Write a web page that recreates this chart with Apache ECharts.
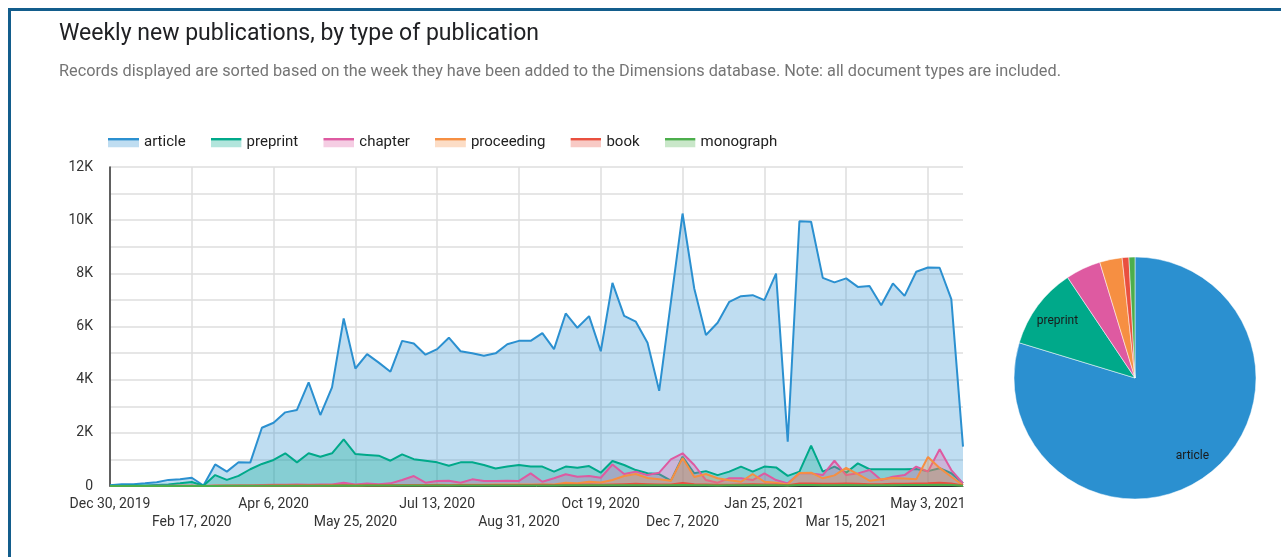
<!DOCTYPE html>
<html>
<head>
<meta charset="utf-8">
<title>Weekly new publications</title>
<script src="https://cdn.jsdelivr.net/npm/echarts@6/dist/echarts.min.js"></script>
<style>
html, body { margin: 0; padding: 0; background: #fff; overflow: hidden }
#frame { position: absolute; left: 8px; top: 8px; width: 1320px; height: 620px; border: 3px solid #135d8c; box-sizing: border-box }
#chart { position: absolute; left: 0; top: 0; width: 1281px; height: 557px }
</style>
</head>
<body>
<div id="frame"></div>
<div id="chart"></div>
<script>
// weeks the records were added (Mondays)
const weeks = [
  'Dec 30, 2019', 'Jan 6, 2020', 'Jan 13, 2020', 'Jan 20, 2020', 'Jan 27, 2020', 'Feb 3, 2020', 'Feb 10, 2020',
  'Feb 17, 2020', 'Feb 24, 2020', 'Mar 2, 2020', 'Mar 9, 2020', 'Mar 16, 2020', 'Mar 23, 2020', 'Mar 30, 2020',
  'Apr 6, 2020', 'Apr 13, 2020', 'Apr 20, 2020', 'Apr 27, 2020', 'May 4, 2020', 'May 11, 2020', 'May 18, 2020',
  'May 25, 2020', 'Jun 1, 2020', 'Jun 8, 2020', 'Jun 15, 2020', 'Jun 22, 2020', 'Jun 29, 2020', 'Jul 6, 2020',
  'Jul 13, 2020', 'Jul 20, 2020', 'Jul 27, 2020', 'Aug 3, 2020', 'Aug 10, 2020', 'Aug 17, 2020', 'Aug 24, 2020',
  'Aug 31, 2020', 'Sep 7, 2020', 'Sep 14, 2020', 'Sep 21, 2020', 'Sep 28, 2020', 'Oct 5, 2020', 'Oct 12, 2020',
  'Oct 19, 2020', 'Oct 26, 2020', 'Nov 2, 2020', 'Nov 9, 2020', 'Nov 16, 2020', 'Nov 23, 2020', 'Nov 30, 2020',
  'Dec 7, 2020', 'Dec 14, 2020', 'Dec 21, 2020', 'Dec 28, 2020', 'Jan 4, 2021', 'Jan 11, 2021', 'Jan 18, 2021',
  'Jan 25, 2021', 'Feb 1, 2021', 'Feb 8, 2021', 'Feb 15, 2021', 'Feb 22, 2021', 'Mar 1, 2021', 'Mar 8, 2021',
  'Mar 15, 2021', 'Mar 22, 2021', 'Mar 29, 2021', 'Apr 5, 2021', 'Apr 12, 2021', 'Apr 19, 2021', 'Apr 26, 2021',
  'May 3, 2021', 'May 10, 2021', 'May 17, 2021', 'May 24, 2021'
]

const types = ['article', 'preprint', 'chapter', 'proceeding', 'book', 'monograph']

const article = [
  30, 70, 70, 100, 140, 230, 250, 310, 20, 810,
  540, 890, 880, 2190, 2380, 2770, 2860, 3900, 2670, 3710,
  6300, 4420, 4960, 4640, 4300, 5460, 5360, 4940, 5150, 5580,
  5070, 4990, 4900, 4990, 5330, 5460, 5460, 5750, 5150, 6490,
  5950, 6390, 5070, 7640, 6400, 6180, 5390, 3580, 6920, 10250,
  7430, 5680, 6140, 6930, 7140, 7180, 6990, 7990, 1670, 9960,
  9940, 7830, 7660, 7810, 7490, 7520, 6800, 7620, 7150, 8060,
  8220, 8210, 7030, 1480
]
const preprint = [
  5, 10, 15, 20, 40, 60, 100, 150, 10, 410,
  230, 380, 630, 830, 980, 1230, 890, 1230, 1100, 1230,
  1750, 1200, 1170, 1140, 950, 1190, 1010, 950, 890, 760,
  890, 890, 790, 660, 730, 790, 730, 730, 540, 730,
  690, 750, 500, 940, 790, 600, 480, 450, 200, 1100,
  480, 560, 410, 540, 730, 540, 730, 700, 380, 540,
  1520, 540, 730, 500, 850, 630, 630, 630, 630, 640,
  560, 670, 480, 100
]
const chapter = [
  0, 0, 0, 0, 5, 5, 10, 10, 0, 10,
  10, 15, 20, 40, 50, 50, 60, 50, 60, 60,
  125, 60, 90, 70, 100, 225, 375, 125, 190, 200,
  120, 250, 190, 190, 200, 190, 475, 160, 290, 440,
  350, 375, 310, 810, 450, 540, 410, 500, 1000, 1230,
  790, 225, 125, 290, 290, 225, 475, 225, 100, 475,
  475, 410, 950, 410, 475, 600, 225, 350, 410, 730,
  540, 1380, 600, 100
]
const proceeding = [
  0, 0, 0, 0, 0, 0, 5, 5, 0, 5,
  5, 5, 10, 10, 15, 15, 20, 20, 20, 25,
  30, 20, 25, 30, 30, 40, 40, 35, 50, 40,
  45, 50, 50, 55, 60, 60, 55, 60, 60, 125,
  100, 160, 130, 225, 375, 450, 300, 250, 200, 1050,
  340, 450, 290, 220, 160, 450, 160, 120, 60, 490,
  500, 290, 400, 680, 450, 200, 250, 300, 280, 250,
  1090, 680, 350, 30
]
const book = [
  0, 0, 0, 0, 0, 0, 0, 0, 0, 5,
  5, 5, 10, 10, 15, 15, 15, 20, 20, 20,
  25, 20, 25, 25, 30, 30, 30, 30, 35, 30,
  35, 35, 40, 35, 40, 40, 40, 45, 40, 50,
  50, 55, 50, 60, 70, 80, 70, 60, 60, 110,
  70, 60, 50, 50, 60, 70, 60, 60, 30, 90,
  90, 80, 80, 90, 80, 70, 70, 80, 80, 90,
  100, 120, 90, 20
]
const monograph = [
  0, 0, 0, 0, 0, 0, 0, 0, 0, 0,
  5, 5, 5, 5, 10, 10, 10, 10, 10, 10,
  15, 10, 15, 15, 15, 15, 15, 15, 20, 15,
  20, 20, 20, 20, 20, 20, 20, 20, 20, 25,
  25, 25, 25, 30, 30, 30, 30, 25, 25, 40,
  30, 25, 20, 25, 25, 30, 30, 25, 15, 35,
  35, 30, 30, 35, 30, 30, 30, 30, 35, 35,
  40, 45, 35, 10
]
const weekly = [article, preprint, chapter, proceeding, book, monograph]

// share of all records (percent)
const share = [79.7, 10.9, 4.7, 3.0, 0.9, 0.8]

const colors = ['#2b90d0', '#00a98a', '#de5aa1', '#f68f42', '#e9503f', '#4cae4c']
const font = 'Roboto, "Noto Sans", sans-serif'

function legendIcon(c) {
  const svg = '<svg xmlns="http://www.w3.org/2000/svg" width="31" height="10">' +
    '<rect x="0" y="3" width="31" height="7" fill="' + c + '" fill-opacity="0.3"/>' +
    '<rect x="0" y="0" width="31" height="3" fill="' + c + '"/></svg>'
  return 'image://data:image/svg+xml;charset=utf-8,' + encodeURIComponent(svg)
}

const chart = echarts.init(document.getElementById('chart'))

const lineSeries = types.map((name, i) => ({
  name, type: 'line', data: weekly[i],
  color: colors[i], symbol: 'none', showSymbol: false,
  lineStyle: { width: 2 },
  areaStyle: { opacity: 0.3 },
  z: 2 + i,
}))

const pieData = types.map((name, i) => ({ name, value: share[i], itemStyle: { color: colors[i] } }))

chart.setOption({
  animation: false,
  textStyle: { fontFamily: font },
  title: [
    {
      text: 'Weekly new publications, by type of publication', left: 54, top: 18,
      textStyle: { fontSize: 23, fontWeight: 'normal', color: '#202124', fontFamily: font },
    },
    {
      text: 'Records displayed are sorted based on the week they have been added to the Dimensions database. Note: all document types are included.',
      left: 54, top: 59,
      textStyle: { fontSize: 16.3, fontWeight: 'normal', color: '#757575', fontFamily: font },
    },
  ],
  legend: {
    left: 103, top: 130, itemWidth: 31, itemHeight: 10, itemGap: 25,
    textStyle: { fontSize: 15, color: '#212121', fontFamily: font },
    data: types.map((name, i) => ({ name, icon: legendIcon(colors[i]) })),
  },
  grid: { left: 110, right: 318, top: 167, bottom: 71 },
  xAxis: {
    type: 'category', data: weeks, boundaryGap: false,
    axisLine: { lineStyle: { color: '#333', width: 1 } },
    axisTick: { show: false },
    axisLabel: {
      interval: 6, margin: 9, fontSize: 14, color: '#333', lineHeight: 18,
      formatter: (v, idx) => (Math.round(idx / 7) % 2 === 1 ? '\n' + v : v),
    },
    splitLine: { show: true, interval: 6, lineStyle: { color: '#dedede', width: 1.5 } },
  },
  yAxis: {
    type: 'value', min: 0, max: 12000, interval: 1000,
    axisLine: { show: true, lineStyle: { color: '#333', width: 1.5 } },
    axisTick: { show: false },
    axisLabel: {
      fontSize: 14, color: '#333', margin: 17,
      formatter: v => (v % 2000 !== 0 ? '' : v === 0 ? '0' : v / 1000 + 'K'),
    },
    splitLine: { lineStyle: { color: '#dedede', width: 1.5 } },
  },
  series: [
    ...lineSeries,
    {
      name: 'share', type: 'pie', center: [1135, 378], radius: 121, startAngle: 90,
      label: { show: false }, labelLine: { show: false },
      itemStyle: { borderColor: '#fff', borderWidth: 0.5 },
      data: pieData,
    },
    {
      // transparent copy that only places the slice labels
      name: 'share labels', type: 'pie', center: [1135, 378], radius: [66, 121], startAngle: 90,
      silent: true, minShowLabelAngle: 25,
      itemStyle: { color: 'rgba(0,0,0,0)' },
      label: { show: true, position: 'inside', fontSize: 12, color: '#1a1a1a', fontFamily: font },
      labelLine: { show: false },
      data: types.map((name, i) => ({ name, value: share[i], itemStyle: { color: 'rgba(0,0,0,0)' } })),
    },
  ],
})
</script>
</body>
</html>
